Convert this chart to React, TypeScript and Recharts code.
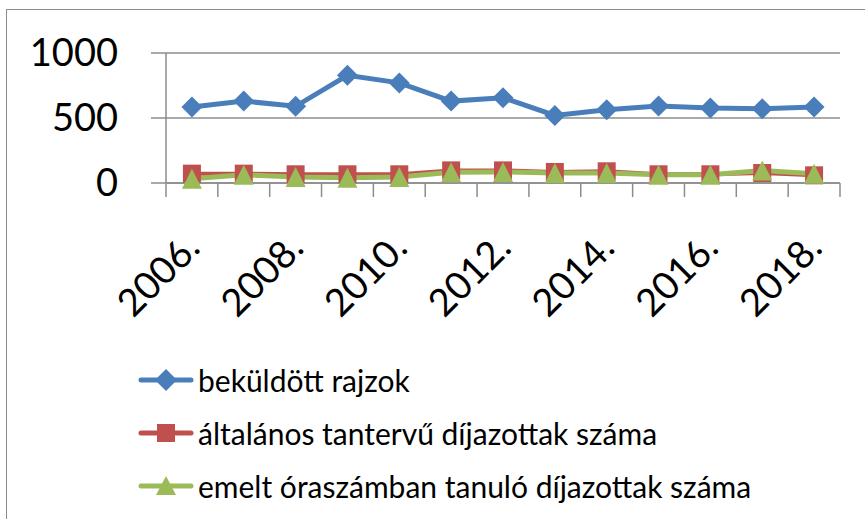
import { LineChart, Line, XAxis, YAxis, CartesianGrid, Legend } from "recharts";

const years = ["2006.", "2007.", "2008.", "2009.", "2010.", "2011.", "2012.", "2013.", "2014.", "2015.", "2016.", "2017.", "2018."];
const submitted = [585, 630, 590, 828, 770, 630, 656, 520, 564, 592, 577, 572, 585];
const generalPrizes = [72, 72, 67, 67, 67, 97, 97, 85, 90, 67, 67, 77, 59];
const advancedPrizes = [33, 64, 46, 41, 46, 82, 85, 77, 77, 64, 64, 97, 72];
const yTicks = [0, 500, 1000];

const seriesNames = [
  "beküldött rajzok",
  "általános tantervű díjazottak száma",
  "emelt óraszámban tanuló díjazottak száma",
];
const colors = ["#4a7ebb", "#c0504d", "#9bbb59"];

const data = years.map((year, i) => ({
  year,
  submitted: submitted[i],
  general: generalPrizes[i],
  advanced: advancedPrizes[i],
}));

const W = 865;
const H = 519;
const PLOT_LEFT = 166;
const PLOT_RIGHT = 25;
const BAND = (W - PLOT_LEFT - PLOT_RIGHT) / years.length;
const AXIS_GRAY = "#8c8c8c";
const FONT = "Lato, 'Open Sans', sans-serif";

function Diamond({ cx, cy }: any) {
  if (cx == null || cy == null) return null;
  const r = 10.5;
  return <path d={`M${cx},${cy - r}L${cx + r},${cy}L${cx},${cy + r}L${cx - r},${cy}Z`} fill={colors[0]} />;
}

function Square({ cx, cy }: any) {
  if (cx == null || cy == null) return null;
  const s = 9;
  return <rect x={cx - s} y={cy - s} width={s * 2} height={s * 2} fill={colors[1]} />;
}

function Triangle({ cx, cy }: any) {
  if (cx == null || cy == null) return null;
  const s = 10;
  return <path d={`M${cx},${cy - s}L${cx + s},${cy + s}L${cx - s},${cy + s}Z`} fill={colors[2]} />;
}

function YearTick({ x, y, payload, index }: any) {
  const left = x - BAND / 2;
  const isLast = index === years.length - 1;
  const lx = x + 10;
  const ly = y + 67;
  return (
    <g>
      <line x1={left} y1={y} x2={left} y2={y + 14} stroke={AXIS_GRAY} strokeWidth={1.5} />
      {isLast && <line x1={x + BAND / 2} y1={y} x2={x + BAND / 2} y2={y + 14} stroke={AXIS_GRAY} strokeWidth={1.5} />}
      {index % 2 === 0 && (
        <text
          x={lx}
          y={ly}
          transform={`rotate(-45, ${lx}, ${ly})`}
          textAnchor="end"
          fontSize={38}
          fontFamily={FONT}
          fill="#000"
        >
          {payload.value}
        </text>
      )}
    </g>
  );
}

function LegendIcon({ i }: { i: number }) {
  const c = colors[i];
  return (
    <svg width={56} height={24} style={{ display: "block" }}>
      <line x1={3} y1={12} x2={53} y2={12} stroke={c} strokeWidth={5} strokeLinecap="round" />
      {i === 0 && <path d="M28,1L39,12L28,23L17,12Z" fill={c} />}
      {i === 1 && <rect x={19} y={3} width={18} height={18} fill={c} />}
      {i === 2 && <path d="M28,2L38,21L18,21Z" fill={c} />}
    </svg>
  );
}

function LegendBox() {
  return (
    <div style={{ height: 166, fontFamily: FONT, fontSize: 30, color: "#000" }}>
      {seriesNames.map((name, i) => (
        <div key={name} style={{ height: 53, display: "flex", alignItems: "center", gap: 4 }}>
          <LegendIcon i={i} />
          <span style={{ whiteSpace: "nowrap" }}>{name}</span>
        </div>
      ))}
    </div>
  );
}

export default function App() {
  return (
    <div style={{ position: "absolute", left: 0, top: 0, width: W, height: H, background: "#fff", overflow: "hidden" }}>
      <div
        style={{
          position: "absolute",
          left: 6,
          top: 9,
          width: W + 20,
          height: H + 20,
          border: `1.5px solid ${AXIS_GRAY}`,
        }}
      />
      <LineChart
        width={W}
        height={H}
        data={data}
        margin={{ top: 53, right: PLOT_RIGHT, bottom: 0, left: 0 }}
        style={{ position: "absolute", left: 0, top: 0 }}
      >
        <CartesianGrid vertical={false} stroke={AXIS_GRAY} strokeWidth={1.5} />
        <XAxis
          dataKey="year"
          interval={0}
          height={170}
          padding={{ left: BAND / 2, right: BAND / 2 }}
          tickSize={0}
          tickMargin={0}
          tickLine={false}
          axisLine={{ stroke: AXIS_GRAY, strokeWidth: 1.5 }}
          tick={<YearTick />}
        />
        <YAxis
          domain={[0, 1000]}
          ticks={yTicks}
          width={PLOT_LEFT}
          tickSize={15}
          tickMargin={33}
          axisLine={{ stroke: AXIS_GRAY, strokeWidth: 1.5 }}
          tickLine={{ stroke: AXIS_GRAY, strokeWidth: 1.5 }}
          tick={{ fontSize: 38, fontFamily: FONT, fill: "#000" }}
        />
        <Legend
          layout="vertical"
          verticalAlign="bottom"
          align="center"
          content={<LegendBox />}
          wrapperStyle={{ left: 138, width: "auto" }}
        />
        <Line
          dataKey="submitted"
          name={seriesNames[0]}
          stroke={colors[0]}
          strokeWidth={5}
          dot={<Diamond />}
          isAnimationActive={false}
        />
        <Line
          dataKey="general"
          name={seriesNames[1]}
          stroke={colors[1]}
          strokeWidth={4}
          dot={<Square />}
          isAnimationActive={false}
        />
        <Line
          dataKey="advanced"
          name={seriesNames[2]}
          stroke={colors[2]}
          strokeWidth={5}
          dot={<Triangle />}
          isAnimationActive={false}
        />
      </LineChart>
    </div>
  );
}
